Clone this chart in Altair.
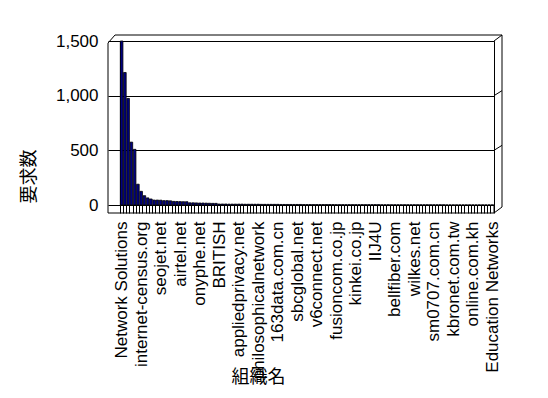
import json
import altair as alt
import pandas as pd

# ---- data ----
values = [
    1500, 1212, 975, 575, 509, 190, 125, 85, 65, 55,
    45, 45, 44, 40, 40, 38, 33, 32, 31, 30,
    30, 20, 20, 19, 18, 18, 17, 16, 15, 15,
    9, 9, 9, 8, 8, 8, 8, 8, 7, 7,
    7, 7, 7, 6, 6, 6, 6, 6, 6, 5,
    5, 5, 5, 5, 5, 5, 4, 4, 4, 4,
    4, 4, 4, 4, 4, 4, 3, 3, 3, 3,
    3, 3, 3, 3, 3, 3, 3, 3, 3, 3,
    2, 2, 2, 2, 2, 2, 2, 2, 2, 2,
    2, 2, 2, 2, 2, 2, 2, 2, 2, 2,
    1, 1, 1, 1, 1, 1, 1, 1, 1, 1,
    1, 1, 1, 1, 1,
]
shown_names = [
    "Network Solutions", "internet-census.org", "seojet.net", "airtel.net",
    "onyphe.net", "BRITISH", "appliedprivacy.net", "philosophicalnetwork",
    "163data.com.cn", "sbcglobal.net", "v6connect.net", "fusioncom.co.jp",
    "kinkei.co.jp", "IIJ4U", "bellfiber.com", "wilkes.net", "sm0707.com.cn",
    "kbronet.com.tw", "online.com.kh", "Education Networks",
]
label_step = 6
y_ticks = [0, 500, 1000, 1500]
x_title = "組織名"
y_title = "要求数"

df = pd.DataFrame({"i": list(range(len(values))), "v": values})

W, H = 374, 164
LEFT, TOP = 120, 41
label_expr = (
    f"datum.value % {label_step} == 0 ? "
    f"{json.dumps(shown_names)}[datum.value / {label_step}] : ''"
)

LABEL_FONT = "Liberation Sans"
CJK_FONT = "Noto Sans CJK JP"

bars = alt.Chart(df).mark_bar(
    color="#000080", stroke="black", strokeWidth=0.8
).encode(
    x=alt.X(
        "i:O",
        scale=alt.Scale(paddingInner=0.2, paddingOuter=0.1),
        axis=alt.Axis(
            title=x_title,
            labelExpr=label_expr,
            labelAngle=-90,
            labelOverlap=False,
            labelLimit=400,
            labelFont=LABEL_FONT,
            labelFontSize=17,
            labelColor="black",
            labelPadding=8,
            domain=False,
            ticks=True,
            tickBand="extent",
            tickSize=8,
            tickColor="black",
            tickWidth=1,
            titleFont=CJK_FONT,
            titleFontSize=18,
            titleFontWeight="normal",
            titleColor="black",
            titleX=138,
            titleY=172,
            titleAlign="center",
            titleBaseline="middle",
            titleAngle=0,
        ),
    ),
    y=alt.Y(
        "v:Q",
        scale=alt.Scale(domain=[0, 1500], nice=False, zero=True),
        axis=alt.Axis(
            title=y_title,
            values=y_ticks,
            format=",d",
            labelFont=LABEL_FONT,
            labelFontSize=17,
            labelColor="black",
            labelPadding=10,
            domain=False,
            ticks=True,
            tickSize=12,
            tickColor="black",
            grid=True,
            gridColor="black",
            gridOpacity=1,
            gridWidth=1,
            titleFont=CJK_FONT,
            titleFontSize=18,
            titleFontWeight="normal",
            titleColor="black",
            titleX=-91,
            titleY=135,
            titleAngle=270,
            titleAlign="center",
            titleBaseline="middle",
        ),
    ),
)


def frame_line(x1, y1, x2, y2):
    return alt.Chart(alt.Data(values=[{}])).mark_rule(
        color="black", strokeWidth=1
    ).encode(
        x=alt.value(x1), y=alt.value(y1), x2=alt.value(x2), y2=alt.value(y2)
    )


y1000 = H * (1 - 1000 / 1500)
y500 = H * (1 - 500 / 1500)
D_X, D_Y = 8, 6
frame = [
    frame_line(-12, 2, -12, H + 8),            # left wall front edge
    frame_line(-12, H + 8, W, H + 8),          # floor front edge
    frame_line(W, H, W, H + 8),                # right front edge (floor)
    frame_line(W, H + 8, W + D_X, H + 8 - D_Y),
    frame_line(W + D_X, -D_Y, W + D_X, H + 8 - D_Y),
    frame_line(W, 0, W + D_X, -D_Y),
    frame_line(-5, -D_Y, W + D_X, -D_Y),       # back top
    frame_line(-12, 2, -5, -D_Y),
    frame_line(W, y1000, W + D_X, y1000 - 5),
    frame_line(W, y500, W + D_X, y500 - 5),
]

chart = alt.layer(bars, *frame).properties(
    width=W,
    height=H,
    autosize=alt.AutoSizeParams(type="none"),
    padding={"left": LEFT, "top": TOP, "right": 548 - LEFT - W, "bottom": 398 - TOP - H},
    background="white",
).configure_view(stroke="black", strokeWidth=1)

chart.save("out.html", embed_options={"renderer": "svg", "actions": False})
